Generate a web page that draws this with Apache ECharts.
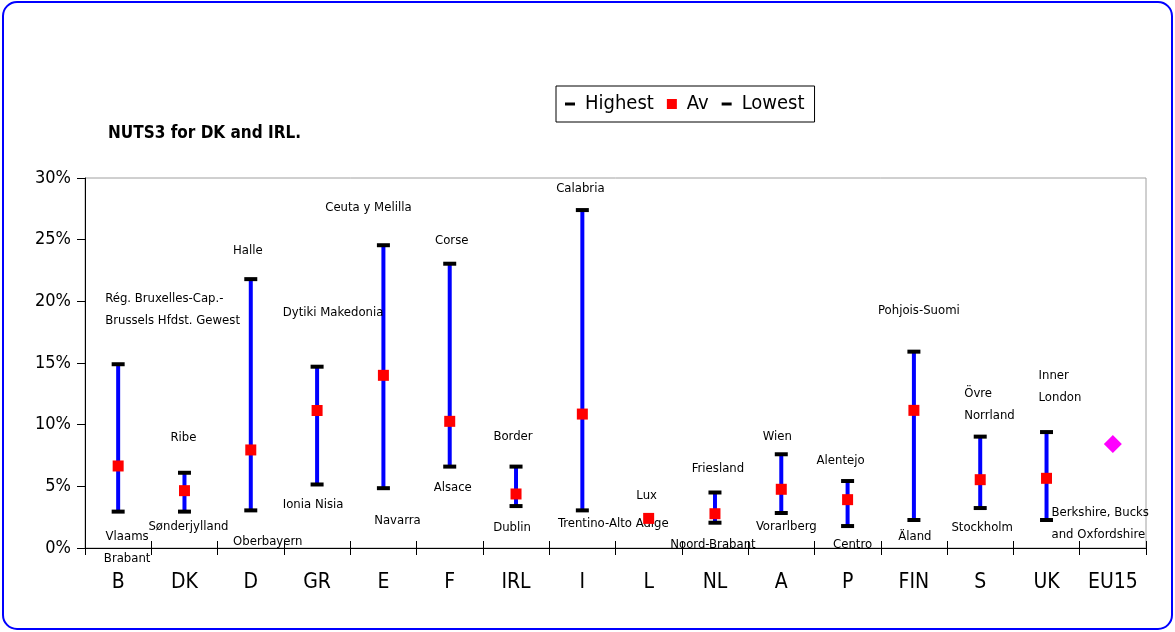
<!DOCTYPE html>
<html><head><meta charset="utf-8">
<script src="https://cdn.jsdelivr.net/npm/echarts@6/dist/echarts.min.js"></script>
<style>html,body{margin:0;padding:0;background:#fff}#c{width:1175px;height:632px}</style>
</head><body><div id="c"></div>
<script>
// ---- data ----
const categories = ['B','DK','D','GR','E','F','IRL','I','L','NL','A','P','FIN','S','UK','EU15'];
const highest = [14.9, 6.1, 21.8, 14.7, 24.55, 23.05, 6.6, 27.4, null, 4.5, 7.6, 5.43, 15.92, 9.03, 9.4, null];
const average = [6.65, 4.65, 7.95, 11.15, 14.0, 10.27, 4.38, 10.86, 2.4, 2.78, 4.76, 3.92, 11.16, 5.54, 5.65, null];
const lowest  = [2.95, 2.95, 3.05, 5.15, 4.85, 6.6, 3.4, 3.05, null, 2.05, 2.84, 1.78, 2.27, 3.24, 2.27, null];
const eu15    = [null, null, null, null, null, null, null, null, null, null, null, null, null, null, null, 8.43];
const highNames = ['Rég. Bruxelles-Cap.-\nBrussels Hfdst. Gewest','Ribe','Halle','Dytiki Makedonia','Ceuta y Melilla','Corse','Border','Calabria','','Friesland','Wien','Alentejo','Pohjois-Suomi','Övre\nNorrland','Inner\nLondon',''];
const avNames   = ['','','','','','','','','Lux','','','','','','',''];
const lowNames  = ['Vlaams\nBrabant','Sønderjylland','Oberbayern','Ionia Nisia','Navarra','Alsace','Dublin','Trentino-Alto Adige','','Noord-Brabant','Vorarlberg','Centro','Äland','Stockholm','Berkshire, Bucks\nand Oxfordshire',''];

// ---- label placement (pixels, style only) ----
const highOff = [[-13,-55],[-1,-35],[-3,-29],[16,-54],[-15,-38],[2,-23],[-3,-30],[-2,-21],[0,0],[3,-24],[-4,-18],[-7,-20],[5,-41],[-16,-32],[-8,-45],[0,0]];
const highAlign = ['left','center','center','center','center','center','center','center','center','center','center','center','center','left','left','center'];
const avOff = [[0,0],[0,0],[0,0],[0,0],[0,0],[0,0],[0,0],[0,0],[-2,-23],[0,0],[0,0],[0,0],[0,0],[0,0],[0,0],[0,0]];
const lowOff = [[9,36],[4,15],[17,31],[-4,20],[14,32],[3,21],[-4,22],[31,13],[0,0],[-2,22],[5,14],[5,19],[1,17],[2,20],[5,4],[0,0]];
const lowAlign = ['center','center','center','center','center','center','center','center','center','center','center','center','center','center','left','center'];

const FF = "'Liberation Sans Narrow','Arial Narrow','DejaVu Sans Condensed','Liberation Sans',sans-serif";

function pts(vals, names, offs, aligns) {
  return vals.map((v, i) => ({
    value: [i, v == null ? '-' : v],
    label: names[i] ? { show: true, formatter: names[i], offset: offs[i], align: aligns ? aligns[i] : 'center', color: '#000' } : { show: false }
  }));
}

const rangeData = [];
categories.forEach((c, i) => { if (highest[i] != null && lowest[i] != null) rangeData.push([i, lowest[i], highest[i]]); });

const labelBase = { position: 'inside', verticalAlign: 'middle', fontSize: 13, lineHeight: 22, color: '#000', fontFamily: FF };
const dashIcon = 'path://M0,0 M0,4h10v3h-10z M15,11';
const sqIcon = 'path://M0,0 M0,0.5h10v10h-10z M15,11';
const gridRect = { left: 85, right: 29, top: 178, bottom: 84 };

const chart = echarts.init(document.getElementById('c'), null, { renderer: 'canvas' });
chart.setOption({
  animation: false,
  backgroundColor: '#fff',
  title: { text: 'NUTS3 for DK and IRL.', left: 108, top: 125, padding: 0,
    textStyle: { fontSize: 17, fontWeight: 'bold', color: '#000', fontFamily: FF } },
  legend: {
    left: 556, top: 86, padding: [8, 10, 8, 9], itemWidth: 15, itemHeight: 11, itemGap: 13,
    borderColor: '#000', borderWidth: 1, backgroundColor: '#fff', selectedMode: false,
    textStyle: { fontSize: 20, color: '#000', fontFamily: FF },
    data: [ { name: 'Highest', icon: dashIcon }, { name: 'Av', icon: sqIcon }, { name: 'Lowest', icon: dashIcon } ]
  },
  grid: [
    Object.assign({ show: true, borderColor: '#a0a0a0', borderWidth: 1, backgroundColor: 'transparent' }, gridRect),
    Object.assign({ show: false }, gridRect)
  ],
  xAxis: [
    { type: 'category', gridIndex: 0, data: categories, boundaryGap: true, position: 'bottom',
      axisLine: { show: true, lineStyle: { color: '#000', width: 1 } },
      axisTick: { show: true, interval: 0, length: 7, lineStyle: { color: '#000' } },
      axisLabel: { interval: 0, fontSize: 21, color: '#000', margin: 24, fontFamily: FF },
      splitLine: { show: false } },
    { type: 'category', gridIndex: 1, data: categories, position: 'bottom', boundaryGap: true,
      axisLine: { show: false },
      axisTick: { show: true, inside: true, interval: 0, length: 7, lineStyle: { color: '#000' } },
      axisLabel: { show: false }, splitLine: { show: false } }
  ],
  yAxis: [
    { type: 'value', gridIndex: 0, min: 0, max: 30, interval: 5,
      axisLine: { show: true, lineStyle: { color: '#000' } },
      axisTick: { show: true, length: 8, lineStyle: { color: '#000' } },
      splitLine: { show: false },
      axisLabel: { formatter: '{value}%', fontSize: 18, color: '#000', margin: 14, fontFamily: FF } },
    { type: 'value', gridIndex: 1, min: 0, max: 30, interval: 5, show: false, splitLine: { show: false } }
  ],
  series: [
    { name: 'range', type: 'custom', xAxisIndex: 0, yAxisIndex: 0, data: rangeData, silent: true, z: 2,
      renderItem: function (params, api) {
        const p1 = api.coord([api.value(0), api.value(1)]);
        const p2 = api.coord([api.value(0), api.value(2)]);
        return { type: 'line', shape: { x1: p1[0], y1: p1[1], x2: p2[0], y2: p2[1] },
          style: { stroke: '#0000ff', lineWidth: 4 } };
      } },
    { name: 'Highest', type: 'scatter', xAxisIndex: 0, yAxisIndex: 0, symbol: 'rect', symbolSize: [13, 4], z: 3,
      itemStyle: { color: '#000', opacity: 1 }, label: labelBase, emphasis: { disabled: true },
      data: pts(highest, highNames, highOff, highAlign) },
    { name: 'Lowest', type: 'scatter', xAxisIndex: 0, yAxisIndex: 0, symbol: 'rect', symbolSize: [13, 4], z: 3,
      itemStyle: { color: '#000', opacity: 1 }, label: labelBase, emphasis: { disabled: true },
      data: pts(lowest, lowNames, lowOff, lowAlign) },
    { name: 'Av', type: 'scatter', xAxisIndex: 0, yAxisIndex: 0, symbol: 'rect', symbolSize: 11, z: 4,
      itemStyle: { color: '#ff0000', opacity: 1 }, label: labelBase, emphasis: { disabled: true },
      data: pts(average, avNames, avOff, null) },
    { name: 'EU15', type: 'scatter', xAxisIndex: 0, yAxisIndex: 0, symbol: 'diamond', symbolSize: 18, z: 4,
      itemStyle: { color: '#ff00ff', opacity: 1 }, emphasis: { disabled: true },
      data: eu15.map((v, i) => [i, v == null ? '-' : v]) }
  ],
  graphic: [
    { type: 'rect', silent: true, z: 100, shape: { x: 3, y: 2, width: 1169, height: 627, r: 14 },
      style: { fill: null, stroke: '#0000ff', lineWidth: 2 } }
  ]
});
</script>
</body></html>
